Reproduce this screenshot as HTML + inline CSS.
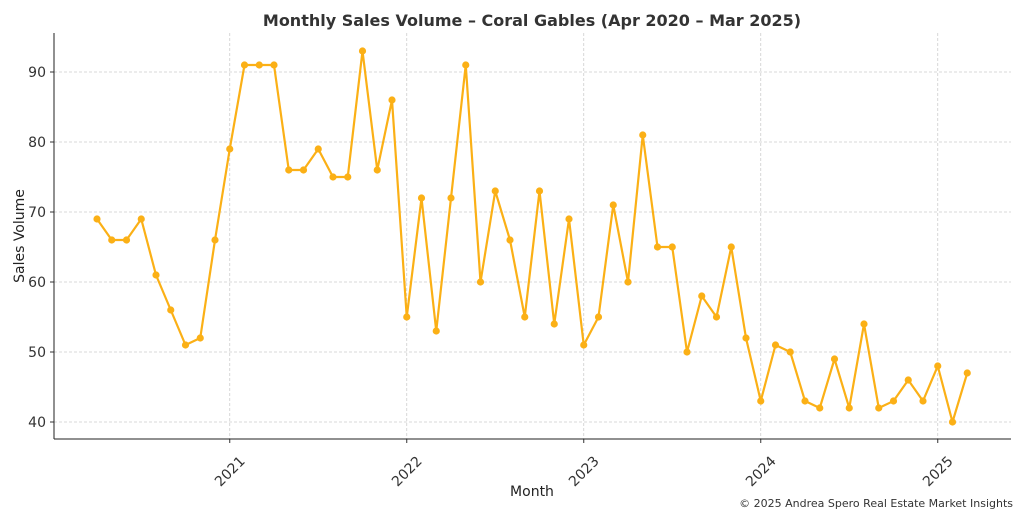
<!DOCTYPE html>
<html><head><meta charset="utf-8"><style>
body{margin:0;background:#fff;font-family:"Liberation Sans","DejaVu Sans",sans-serif}
svg text{font-family:"DejaVu Sans","Liberation Sans",sans-serif}
</style></head><body>
<svg id="c" width="1024" height="512" viewBox="0 0 1024 512">
<text x="532" y="26" text-anchor="middle" font-size="16" font-weight="bold" fill="#333">Monthly Sales Volume – Coral Gables (Apr 2020 – Mar 2025)</text>
<g id="grid"></g><g id="axes"></g><g id="series"></g>
<text x="532" y="496" text-anchor="middle" font-size="14" fill="#222">Month</text>
<text transform="translate(24,236) rotate(-90)" text-anchor="middle" font-size="14" fill="#222">Sales Volume</text>
<text x="1013" y="507" text-anchor="end" font-size="11" fill="#333">© 2025 Andrea Spero Real Estate Market Insights</text>
</svg>
<script>
const values=[69,66,66,69,61,56,51,52,66,79,91,91,91,76,76,79,75,75,93,76,86,55,72,53,72,91,60,73,66,55,73,54,69,51,55,71,60,81,65,65,50,58,55,65,52,43,51,50,43,42,49,42,54,42,43,46,43,48,40,47];
const yTicks=[40,50,60,70,80,90];
const xTickLabels=["2021","2022","2023","2024","2025"];
const xTickMonthIdx=[9,21,33,45,57];
const NS="http://www.w3.org/2000/svg";
const L=54,R=1011,T=33,B=439;
const xs=i=>97+i*14.75;
const ys=v=>422-(v-40)*7;
function mk(tag,attrs,parent){const e=document.createElementNS(NS,tag);for(const k in attrs)e.setAttribute(k,attrs[k]);parent.appendChild(e);return e;}
const grid=document.getElementById('grid'),axes=document.getElementById('axes'),ser=document.getElementById('series');
yTicks.forEach(t=>{const y=ys(t);
 const g=mk('line',{x1:L,x2:R,y1:y,y2:y,stroke:'#ccc','stroke-dasharray':'3,2','stroke-width':0.8},grid);
 
 
 mk('line',{x1:L-4,x2:L,y1:y,y2:y,stroke:'#333'},axes);
 const tx=mk('text',{x:L-8,y:y+5,'text-anchor':'end','font-size':14,fill:'#333'},axes);tx.textContent=t;
 
 
});
xTickMonthIdx.forEach((m,k)=>{const x=xs(m);
 const g=mk('line',{x1:x,x2:x,y1:T,y2:B,stroke:'#ccc','stroke-dasharray':'3,2','stroke-width':0.8},grid);
 
 
 mk('line',{x1:x,x2:x,y1:B,y2:B+4,stroke:'#333'},axes);
 const ax=x+16,ay=B+23;
 const tx=mk('text',{x:ax,y:ay,'text-anchor':'end','font-size':14,fill:'#333',transform:`rotate(-45 ${ax} ${ay})`},axes);tx.textContent=xTickLabels[k];
 
 
});
mk('line',{x1:L,x2:L,y1:T,y2:B,stroke:'#222'},axes);
mk('line',{x1:L,x2:R,y1:B,y2:B,stroke:'#222'},axes);
const line=mk('polyline',{points:values.map((v,i)=>xs(i)+','+ys(v)).join(' '),fill:'none',stroke:'#FBB016','stroke-width':2.2,'stroke-linejoin':'round'},ser);


values.forEach((v,i)=>{const c=mk('circle',{cx:xs(i),cy:ys(v),r:3.6,fill:'#FBB016'},ser);
 
 
});
</script>
</body></html>
